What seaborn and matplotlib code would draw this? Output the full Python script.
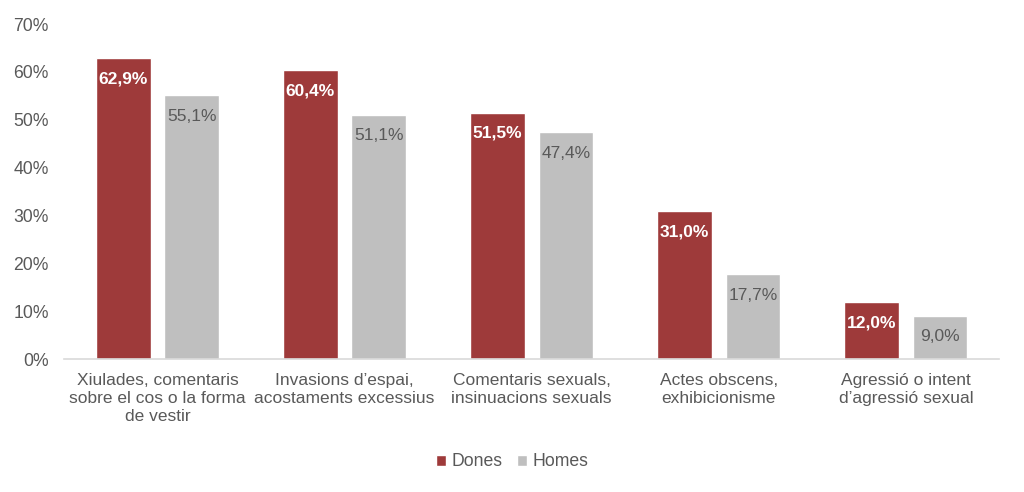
import matplotlib
matplotlib.use("Agg")
import matplotlib.pyplot as plt
import seaborn as sns
import pandas as pd

categories = ["Xiulades, comentaris\nsobre el cos o la forma\nde vestir",
              "Invasions d’espai,\nacostaments excessius",
              "Comentaris sexuals,\ninsinuacions sexuals",
              "Actes obscens,\nexhibicionisme",
              "Agressió o intent\nd’agressió sexual"]
dones = [62.9, 60.4, 51.5, 31.0, 12.0]
homes = [55.1, 51.1, 47.4, 17.7, 9.0]
series = ["Dones", "Homes"]
colors = {"Dones": "#9E3A3A", "Homes": "#BFBFBF"}

df = pd.DataFrame({
    "cat": categories * 2,
    "val": dones + homes,
    "sexe": ["Dones"] * 5 + ["Homes"] * 5,
})

sns.set_style("white")
plt.rcParams["font.family"] = ["Liberation Sans", "DejaVu Sans"]
txt = "#595959"

fig = plt.figure(figsize=(10.24, 4.92), dpi=100)
ax = fig.add_axes([0.0625, 0.270, 0.9135, 0.681])
sns.barplot(data=df, x="cat", y="val", hue="sexe", hue_order=series,
            palette=colors, width=0.73, gap=0.2, ax=ax, saturation=1)

for cont, s in zip(ax.containers, series):
    for bar in cont:
        h = bar.get_height()
        lbl = f"{h:.1f}%".replace(".", ",")
        if s == "Dones":
            ax.annotate(lbl, (bar.get_x() + bar.get_width() / 2, h),
                        xytext=(0, -15), textcoords="offset points",
                        ha="center", va="center", color="white",
                        fontsize=12.5, fontweight="bold")
        else:
            ax.annotate(lbl, (bar.get_x() + bar.get_width() / 2, h),
                        xytext=(0, -15), textcoords="offset points",
                        ha="center", va="center", color=txt, fontsize=12.5)

ax.set_ylim(0, 70)
ax.set_yticks(range(0, 71, 10))
ax.set_yticklabels([f"{v}%" for v in range(0, 71, 10)], color=txt, fontsize=12.7)
ax.set_xticks(range(5))
ax.set_xticklabels(categories, color=txt, fontsize=12.5, linespacing=1.25)
ax.set_xlim(-0.5, 4.5)
ax.set_xlabel("")
ax.set_ylabel("")
for sp in ["top", "right", "left"]:
    ax.spines[sp].set_visible(False)
ax.spines["bottom"].set_color("#D9D9D9")
ax.spines["bottom"].set_linewidth(1.2)
ax.tick_params(axis="x", length=0, pad=10)
ax.tick_params(axis="y", length=0, pad=11)

handles, labels = ax.get_legend_handles_labels()
ax.legend_.remove()
fig.legend(handles, labels, loc="center", bbox_to_anchor=(0.5, 1 - 462 / 492),
           ncol=2, frameon=False, fontsize=12.7, labelcolor=txt,
           handlelength=0.6, handleheight=0.6, handletextpad=0.3,
           columnspacing=0.8)

fig.savefig("out.png", dpi=100)
